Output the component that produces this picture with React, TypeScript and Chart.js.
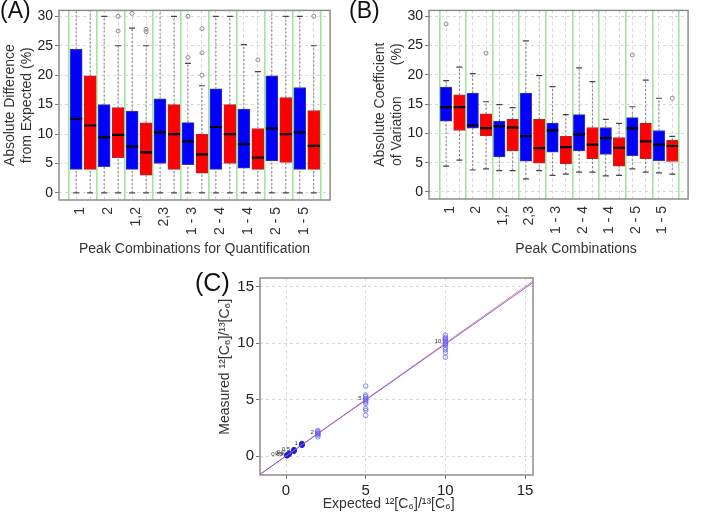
import React, { useEffect, useRef } from 'react';
import { Chart, registerables } from 'chart.js';

Chart.register(...registerables);

const FONT = '"Liberation Sans", Arial, Helvetica, sans-serif';
Chart.defaults.font.family = FONT;
Chart.defaults.color = '#333';

// ---------- shared categories ----------
const groupLabels = ['1', '2', '1,2', '2,3', '1 - 3', '2 - 4', '1 - 4', '2 - 5', '1 - 5'];
const yTicksAB = [0, 5, 10, 15, 20, 25, 30];

// ---------- (A) Absolute difference from expected (%) ----------
const diffLow = [0, 0, 0, 0, 0, 0, 0, 0, 0, 0, 0, 0, 0, 0, 0, 0, 0, 0];
const diffQ1 = [4, 4, 4.45, 6, 4, 3, 5, 4, 4.8, 3.35, 4, 5, 4.2, 4, 5.45, 5.2, 4, 4];
const diffMed = [12.6, 11.45, 9.45, 9.85, 7.9, 6.9, 10.3, 10, 8.75, 6.55, 11.2, 10, 8.3, 6, 10.95, 10, 10.3, 8];
const diffQ3 = [24.4, 19.9, 15, 14.5, 13.9, 11.9, 16, 15, 11.95, 10, 17.7, 15, 14.25, 10.95, 19.9, 16.2, 17.9, 14];
const diffHigh = [32, 32, 30, 25, 28, 25, 32, 30, 22, 18.2, 30, 30, 25.2, 20.6, 32, 30, 30, 25];
const diffOutliers = [[], [], [], [27.5, 30], [30.5], [27.4, 27.8], [], [], [23, 30], [20, 23.8, 27.9], [], [], [], [22.6], [], [], [], [30]];

// ---------- (B) Absolute coefficient of variation (%) ----------
const cvLow = [4.4, 5.45, 3.75, 3.95, 3.65, 3.65, 2.25, 3.65, 2.85, 3.05, 3.4, 3.4, 2.75, 2.85, 3.95, 3.4, 3.25, 3.05];
const cvQ1 = [12.1, 10.5, 10.9, 9.55, 6.0, 7.0, 5.25, 4.9, 6.8, 4.8, 7.0, 5.7, 6.4, 4.4, 6.2, 5.7, 5.35, 5.2];
const cvMed = [14.5, 14.5, 11.35, 10.9, 11.25, 11.0, 9.55, 7.5, 10.5, 7.65, 9.85, 8.1, 9.2, 7.55, 10.85, 8.65, 8.1, 7.85];
const cvQ3 = [17.9, 16.6, 16.9, 13.35, 12.1, 12.4, 16.9, 12.4, 11.75, 9.5, 13.2, 11.0, 11.0, 9.3, 12.7, 11.75, 10.5, 8.8];
const cvHigh = [19.0, 21.3, 20.2, 15.4, 14.9, 14.4, 25.8, 19.85, 18.0, 13.2, 21.2, 18.85, 12.4, 11.7, 14.55, 19.1, 16.0, 9.5];
const cvOutliers = [[28.7], [], [], [23.7], [], [], [], [], [], [], [], [], [], [], [23.4], [], [], [16.0]];

// ---------- (C) Measured vs expected ratio ----------
const cTicks = [0, 5, 10, 15];
const measuredAt10 = [10.7, 10.5, 10.4, 10.3, 10.2, 10.1, 10.0, 9.9, 9.8, 9.6, 9.4, 9.15, 8.75];
const measuredAt5 = [6.2, 5.4, 5.25, 5.1, 5.0, 4.9, 4.8, 4.65, 4.2, 4.05, 3.6];
const measuredAt2 = [2.25, 2.15, 2.05, 2.0, 1.95, 1.85, 1.7];
const lowExpected = [1, 1, 1, 0.5, 0.5, 0.5, 0.2, 0.2, 0.1, 0.1, 0.05, 0.05];
const lowMeasured = [0.95, 1.03, 1.1, 0.42, 0.5, 0.56, 0.17, 0.24, 0.06, 0.12, 0.03, 0.07];
const levelLabels = ['10', '5', '2', '1', '0.5', '0.2', '0.1', '0.05'];
const levelValues = [10, 5, 2, 1, 0.5, 0.2, 0.1, 0.05];
const identityX = [-2, 16];
const identityY = [-2, 16];
const fitX = [-2, 16];
const fitY = [-1.98, 15.86];

const framePlugin = {
  id: 'frame',
  afterDatasetsDraw(chart: any) {
    const { ctx, chartArea: a } = chart;
    ctx.save();
    ctx.strokeStyle = '#8c8c8c';
    ctx.lineWidth = 1.5;
    ctx.strokeRect(a.left, a.top, a.right - a.left, a.bottom - a.top);
    ctx.restore();
  },
};

function boxConfig(p: any) {
  const idx = p.q1.map((_: number, i: number) => i);
  const whiskers: any[] = [];
  idx.forEach((i: number) => {
    whiskers.push(
      { x: i, y: p.low[i] }, { x: i, y: p.q1[i] }, { x: i, y: null },
      { x: i, y: p.q3[i] }, { x: i, y: p.high[i] }, { x: i, y: null }
    );
  });
  const caps = idx.flatMap((i: number) => [{ x: i, y: p.low[i] }, { x: i, y: p.high[i] }]);
  const outl = idx.flatMap((i: number) => p.outliers[i].map((v: number) => ({ x: i, y: v })));
  const xTicks: number[] = [];
  for (let v = -0.5; v <= p.q1.length - 0.5; v += 0.5) xTicks.push(v);
  const isBoundary = (v: number) => Number.isInteger((v + 0.5) / 2);
  return {
    type: 'scatter',
    data: {
      datasets: [
        {
          type: 'scatter',
          data: p.med.map((v: number, i: number) => ({ x: i, y: v })),
          pointStyle: 'line', pointRadius: p.barW / 2, pointHoverRadius: p.barW / 2,
          pointBorderColor: '#000', pointBorderWidth: 2.2, order: 0,
        },
        {
          type: 'bar',
          data: idx.map((i: number) => ({ x: i, y: [p.q1[i], p.q3[i]] })),
          backgroundColor: idx.map((i: number) => (i % 2 === 0 ? '#0000ff' : '#ff0000')),
          borderColor: idx.map((i: number) => (i % 2 === 0 ? '#3a3aa8' : '#b02a2a')),
          borderWidth: 1, borderSkipped: false, barThickness: p.barW, grouped: false, order: 1,
        },
        {
          type: 'scatter', data: caps, pointStyle: 'line', pointRadius: 3, pointHoverRadius: 3,
          pointBorderColor: '#444', pointBorderWidth: 1.2, order: 2,
        },
        {
          type: 'scatter', data: whiskers, showLine: true, borderColor: '#7a7a7a', borderWidth: 1,
          borderDash: [2, 2], pointRadius: 0, pointHoverRadius: 0, spanGaps: false, order: 3,
        },
        {
          type: 'scatter', data: outl, pointStyle: 'circle', pointRadius: 2, pointHoverRadius: 2,
          pointBorderColor: '#8a8a8a', pointBackgroundColor: 'rgba(0,0,0,0)', pointBorderWidth: 1, order: 4,
        },
      ],
    },
    options: {
      responsive: false,
      animation: false,
      events: [],
      layout: { padding: { left: 0, right: p.padRight, top: p.padTop, bottom: 0 } },
      plugins: { legend: { display: false }, tooltip: { enabled: false } },
      scales: {
        x: {
          type: 'linear', min: p.xMin, max: p.xMax, offset: false,
          afterBuildTicks: (s: any) => { s.ticks = xTicks.map((v) => ({ value: v })); },
          afterFit: (s: any) => { s.height = p.xAxisHeight; },
          ticks: {
            autoSkip: false, minRotation: 90, maxRotation: 90, padding: 7, labelOffset: -3,
            font: { size: 14 }, color: '#333',
            callback: (v: any) => {
              const g = (Number(v) - 0.5) / 2;
              return Number.isInteger(g) ? groupLabels[g] : '';
            },
          },
          grid: {
            offset: false, drawTicks: false,
            color: (c: any) => {
              if (!c.tick) return 'rgba(0,0,0,0)';
              const v = c.tick.value;
              if (isBoundary(v)) return '#a3e4a3';
              if (Number.isInteger(v)) return '#d6d6d6';
              return 'rgba(0,0,0,0)';
            },
            lineWidth: (c: any) => (c.tick && isBoundary(c.tick.value) ? 1.6 : 1),
          },
          border: {
            display: false,
            dash: (c: any) => (c.tick && Number.isInteger(c.tick.value) ? [3, 3] : []),
          },
          title: {
            display: true, text: p.xTitle, font: { size: 14 }, color: '#333',
            padding: { top: 0, bottom: p.xTitlePadB },
          },
        },
        y: {
          type: 'linear', min: p.yMin, max: p.yMax,
          afterBuildTicks: (s: any) => { s.ticks = yTicksAB.map((v) => ({ value: v })); },
          afterFit: (s: any) => { s.width = p.yAxisWidth; },
          ticks: { padding: 2, font: { size: 14 }, color: '#222' },
          grid: {
            color: '#d9d9d9', lineWidth: 1, drawTicks: true, tickLength: 4,
            tickColor: '#777', tickWidth: 1, tickBorderDash: [],
          },
          border: { display: false, dash: [3, 3] },
          title: {
            display: true, text: p.yTitle, font: { size: 14 }, color: '#333',
            padding: { top: p.yTitlePadT, bottom: 0 },
          },
        },
      },
    },
    plugins: [framePlugin],
  };
}

const configA = () =>
  boxConfig({
    q1: diffQ1, med: diffMed, q3: diffQ3, low: diffLow, high: diffHigh, outliers: diffOutliers,
    xMin: -1.23, xMax: 18.17, yMin: -1.2, yMax: 31, barW: 12,
    yTitle: ['Absolute Difference', 'from Expected (%)'], yTitlePadT: 1.6, yAxisWidth: 59,
    xTitle: 'Peak Combinations for Quantification', xTitlePadB: 4.5, xAxisHeight: 62,
    padRight: 13, padTop: 5,
  });

const configB = () =>
  boxConfig({
    q1: cvQ1, med: cvMed, q3: cvQ3, low: cvLow, high: cvHigh, outliers: cvOutliers,
    xMin: -1.286, xMax: 18.19, yMin: -1.2, yMax: 31, barW: 11.5,
    yTitle: ['Absolute Coefficient', 'of Variation        (%)'], yTitlePadT: 21.6, yAxisWidth: 79,
    xTitle: '         Peak Combinations', xTitlePadB: 4.5, xAxisHeight: 63,
    padRight: 1.3, padTop: 4,
  });

const pointLabelPlugin = {
  id: 'pointLabels',
  afterDatasetsDraw(chart: any) {
    const { ctx, scales } = chart;
    ctx.save();
    ctx.font = `6px ${FONT}`;
    ctx.fillStyle = '#333';
    ctx.textAlign = 'right';
    ctx.textBaseline = 'middle';
    levelLabels.forEach((t, i) => {
      ctx.fillText(t, scales.x.getPixelForValue(levelValues[i]) - 4, scales.y.getPixelForValue(levelValues[i]) - 1.5);
    });
    ctx.restore();
  },
};

const configC = () => {
  const openPts = [
    ...measuredAt10.map((v) => ({ x: 10, y: v })),
    ...measuredAt5.map((v) => ({ x: 5, y: v })),
    ...measuredAt2.map((v) => ({ x: 2, y: v })),
  ];
  const densePts = lowExpected.map((x, i) => ({ x, y: lowMeasured[i] }));
  const gridC = {
    color: '#d9d9d9', lineWidth: 1, drawTicks: true, tickLength: 4,
    tickColor: '#777', tickWidth: 1, tickBorderDash: [],
  };
  return {
    type: 'scatter',
    data: {
      datasets: [
        {
          data: fitX.map((x, i) => ({ x, y: fitY[i] })), showLine: true,
          borderColor: 'rgba(105,80,225,0.85)', borderWidth: 1, pointRadius: 0, pointHoverRadius: 0, order: 0,
        },
        {
          data: identityX.map((x, i) => ({ x, y: identityY[i] })), showLine: true,
          borderColor: 'rgba(235,110,145,0.85)', borderWidth: 1, pointRadius: 0, pointHoverRadius: 0, order: 1,
        },
        {
          data: openPts, pointRadius: 2.3, pointHoverRadius: 2.3, pointBorderColor: 'rgba(90,90,235,0.7)',
          pointBackgroundColor: 'rgba(0,0,0,0)', pointBorderWidth: 1, order: 2,
        },
        {
          data: densePts, pointRadius: 2.4, pointHoverRadius: 2.4, pointBorderColor: 'rgba(30,30,215,0.9)',
          pointBackgroundColor: 'rgba(30,30,215,0.85)', pointBorderWidth: 1, order: 2,
        },
      ],
    },
    options: {
      responsive: false,
      animation: false,
      events: [],
      layout: { padding: { left: 0, right: 17, top: 16, bottom: 0 } },
      plugins: { legend: { display: false }, tooltip: { enabled: false } },
      scales: {
        x: {
          type: 'linear', min: -1.632, max: 15.5,
          afterBuildTicks: (s: any) => { s.ticks = cTicks.map((v) => ({ value: v })); },
          afterFit: (s: any) => { s.height = 38; },
          ticks: { padding: 3, font: { size: 15 }, color: '#222' },
          grid: gridC,
          border: { display: false, dash: [3, 3] },
          title: {
            display: true, text: 'Expected ¹²[C₆]/¹³[C₆]    ', font: { size: 14 }, color: '#333',
            padding: { top: 0, bottom: 0 },
          },
        },
        y: {
          type: 'linear', min: -1.68, max: 15.77,
          afterBuildTicks: (s: any) => { s.ticks = cTicks.map((v) => ({ value: v })); },
          afterFit: (s: any) => { s.width = 80; },
          ticks: { padding: 2, font: { size: 15 }, color: '#222' },
          grid: gridC,
          border: { display: false, dash: [3, 3] },
          title: {
            display: true, text: '     Measured ¹²[C₆]/¹³[C₆]', font: { size: 14 }, color: '#333',
            padding: { top: 36.6, bottom: 0 },
          },
        },
      },
    },
    plugins: [framePlugin, pointLabelPlugin],
  };
};

function ChartCanvas({ left, top, width, height, make }: any) {
  const ref = useRef<HTMLCanvasElement>(null);
  useEffect(() => {
    const chart = new Chart(ref.current as HTMLCanvasElement, make());
    return () => chart.destroy();
  }, []);
  return (
    <canvas
      ref={ref}
      width={width}
      height={height}
      style={{ position: 'absolute', left, top, width, height, display: 'block' }}
    />
  );
}

const labelStyle = (left: number, top: number, size: number): React.CSSProperties => ({
  position: 'absolute', left, top, fontFamily: FONT, fontSize: size, lineHeight: `${size}px`,
  color: '#111', whiteSpace: 'nowrap',
});

export default function App() {
  return (
    <div style={{ position: 'absolute', left: 0, top: 0, width: 703, height: 513, background: '#fff', overflow: 'hidden' }}>
      <ChartCanvas left={0} top={0} width={345} height={262} make={configA} />
      <ChartCanvas left={350} top={0} width={353} height={262} make={configB} />
      <ChartCanvas left={180} top={262} width={370} height={251} make={configC} />
      <div style={labelStyle(0, -1, 23)}>(A)</div>
      <div style={labelStyle(349, -1, 23)}>(B)</div>
      <div style={labelStyle(195, 270, 25)}>(C)</div>
    </div>
  );
}
